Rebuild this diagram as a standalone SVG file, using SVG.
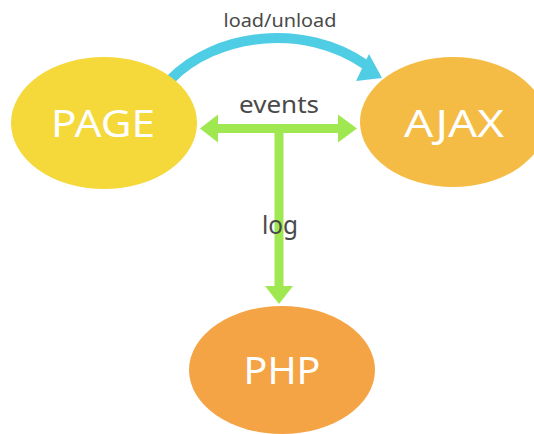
<svg xmlns="http://www.w3.org/2000/svg" width="534" height="434" viewBox="0 0 534 434">
<style>
.node-label{font-family:"Noto Sans","Liberation Sans",sans-serif;font-size:39px;fill:#ffffff;text-anchor:middle}
.edge-label{font-family:"Noto Sans","Liberation Sans",sans-serif;fill:#4a4a4a;text-anchor:middle}
.green{stroke:#9fe852;stroke-width:9;fill:none}
.greenhead{fill:#9fe852}
</style>
<rect width="534" height="434" fill="#ffffff"/>
<g id="connectors">
<g id="load-unload">
<path d="M170,80 C215,33 305,22 366,65" stroke="#4fcde4" stroke-width="10" fill="none"/>
<polygon points="382,78 369,54 356,81" fill="#4fcde4"/>
<text class="edge-label" x="280" y="27" font-size="18" textLength="113" lengthAdjust="spacingAndGlyphs">load/unload</text>
</g>
<g id="events">
<line class="green" x1="216" y1="128.5" x2="340" y2="128.5"/>
<polygon class="greenhead" points="200,128.5 218,114.5 218,142.5"/>
<polygon class="greenhead" points="357,128.5 338,114.5 338,142.5"/>
<text class="edge-label" x="279" y="113" font-size="24" textLength="80" lengthAdjust="spacingAndGlyphs">events</text>
</g>
<g id="log">
<line class="green" x1="279" y1="128" x2="279" y2="288"/>
<polygon class="greenhead" points="279,304 265,286 293,286"/>
<text class="edge-label" x="280" y="234" font-size="25" textLength="36" lengthAdjust="spacingAndGlyphs">log</text>
</g>
</g>
<g id="PAGE">
<ellipse cx="104" cy="123" rx="93" ry="66" fill="#f5d83a"/>
<text class="node-label" x="103" y="137" textLength="104" lengthAdjust="spacingAndGlyphs">PAGE</text>
</g>
<g id="AJAX">
<ellipse cx="453" cy="122" rx="93" ry="65" fill="#f4bc44"/>
<text class="node-label" x="454" y="137" textLength="100" lengthAdjust="spacingAndGlyphs">AJAX</text>
</g>
<g id="PHP">
<ellipse cx="282" cy="370" rx="93" ry="64" fill="#f5a445"/>
<text class="node-label" x="282" y="384" textLength="77" lengthAdjust="spacingAndGlyphs">PHP</text>
</g>
</svg>
